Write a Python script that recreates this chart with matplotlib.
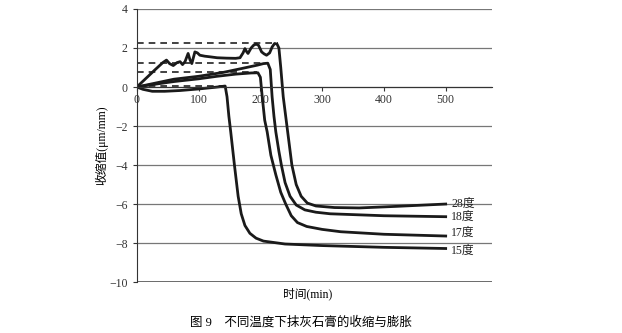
import matplotlib.pyplot as plt
import numpy as np

plt.rcParams['font.family'] = ['Liberation Serif', 'Noto Sans CJK SC']

# time (min) / shrinkage (um/mm)
t28 = [0, 10, 20, 30, 42, 48, 53, 59, 65, 70, 74, 78, 83, 86, 89, 94, 98, 102, 110, 118,
       130, 145, 160, 167, 172, 175, 178, 180, 185, 189, 193, 197, 202, 206, 210, 215, 219,
       223, 227, 230, 233, 237, 241, 245, 251, 258, 266, 276, 290, 320, 360, 420, 500]
v28 = [0, 0.3, 0.6, 0.9, 1.25, 1.38, 1.2, 1.1, 1.25, 1.3, 1.15, 1.3, 1.72, 1.4, 1.2, 1.8,
       1.75, 1.63, 1.58, 1.55, 1.5, 1.48, 1.47, 1.5, 1.75, 1.97, 1.8, 1.72, 2.0, 2.14, 2.2,
       2.14, 1.8, 1.7, 1.63, 1.75, 2.05, 2.23, 2.2, 2.0, 1.0, -0.5, -1.5, -2.5, -4.0, -5.0,
       -5.6, -5.95, -6.1, -6.18, -6.2, -6.12, -6.0]

t18 = [0, 30, 60, 100, 140, 170, 195, 205, 212, 216, 219, 222, 225, 230, 234, 240, 248,
       258, 272, 290, 313, 400, 500]
v18 = [0, 0.2, 0.4, 0.55, 0.75, 0.95, 1.12, 1.2, 1.22, 0.9, -0.5, -1.5, -2.3, -3.3, -4.0,
       -4.9, -5.6, -6.05, -6.3, -6.42, -6.5, -6.6, -6.65]

t17 = [0, 20, 60, 100, 130, 160, 185, 196, 200, 203, 207, 211, 217, 225, 233, 241, 250,
       260, 275, 300, 330, 400, 500]
v17 = [0, 0.1, 0.28, 0.42, 0.55, 0.66, 0.72, 0.73, 0.5, -0.5, -1.7, -2.3, -3.5, -4.5,
       -5.4, -6.0, -6.6, -6.95, -7.15, -7.3, -7.42, -7.55, -7.64]

t15 = [0, 10, 25, 45, 70, 100, 125, 143, 146, 149, 152, 158, 164, 169, 175, 183, 193,
       205, 240, 300, 400, 500]
v15 = [0, -0.12, -0.22, -0.22, -0.18, -0.1, -0.02, 0.05, -0.5, -1.5, -2.3, -4.0, -5.6,
       -6.5, -7.1, -7.5, -7.75, -7.9, -8.05, -8.13, -8.22, -8.28]

labels = ['28度', '18度', '17度', '15度']

# dashed max-expansion lines: level, end time
dash_levels = [2.25, 1.25, 0.75, 0.05]
dash_ends = [228, 210, 195, 145]

fig = plt.figure(figsize=(6.22, 3.33), dpi=100)
ax = fig.add_axes([0.220, 0.153, 0.571, 0.820])

ax.set_xlim(0, 575)
ax.set_ylim(-10, 4)
ax.set_yticks(np.arange(-10, 5, 2))
ax.set_xticks([0, 100, 200, 300, 400, 500])
ax.yaxis.grid(True, color='#777777', lw=0.9)
ax.set_axisbelow(True)

for lvl, end in zip(dash_levels, dash_ends):
    ax.plot([0, end], [lvl, lvl], ls=(0, (4, 3)), color='#222222', lw=1.2)

for t, v in [(t28, v28), (t18, v18), (t17, v17), (t15, v15)]:
    ax.plot(t, v, color='#1a1a1a', lw=2.0, solid_joinstyle='round')

label_y = [-6.0, -6.65, -7.5, -8.4]
for lab, y in zip(labels, label_y):
    ax.text(528, y, lab, fontsize=8.5, ha='center', va='center', color='#222222')

for s in ['top', 'right']:
    ax.spines[s].set_visible(False)
ax.spines['bottom'].set_position(('data', 0))
ax.spines['bottom'].set_color('#333333')
ax.spines['left'].set_color('#333333')
ax.tick_params(axis='both', labelsize=8.5, length=3, colors='#333333', direction='out')
ax.tick_params(axis='x', pad=2)
ax.axhline(-10, color='#555555', lw=1.2)

ax.set_ylabel('收缩值(μm/mm)', fontsize=8.5, labelpad=1)
fig.text(0.494, 0.118, '时间(min)', fontsize=8.5, ha='center', va='center')
fig.text(0.305, 0.033, '图 9    不同温度下抹灰石膏的收缩与膨胀', fontsize=9, ha='left', va='center')

fig.savefig('out.png', dpi=100)
